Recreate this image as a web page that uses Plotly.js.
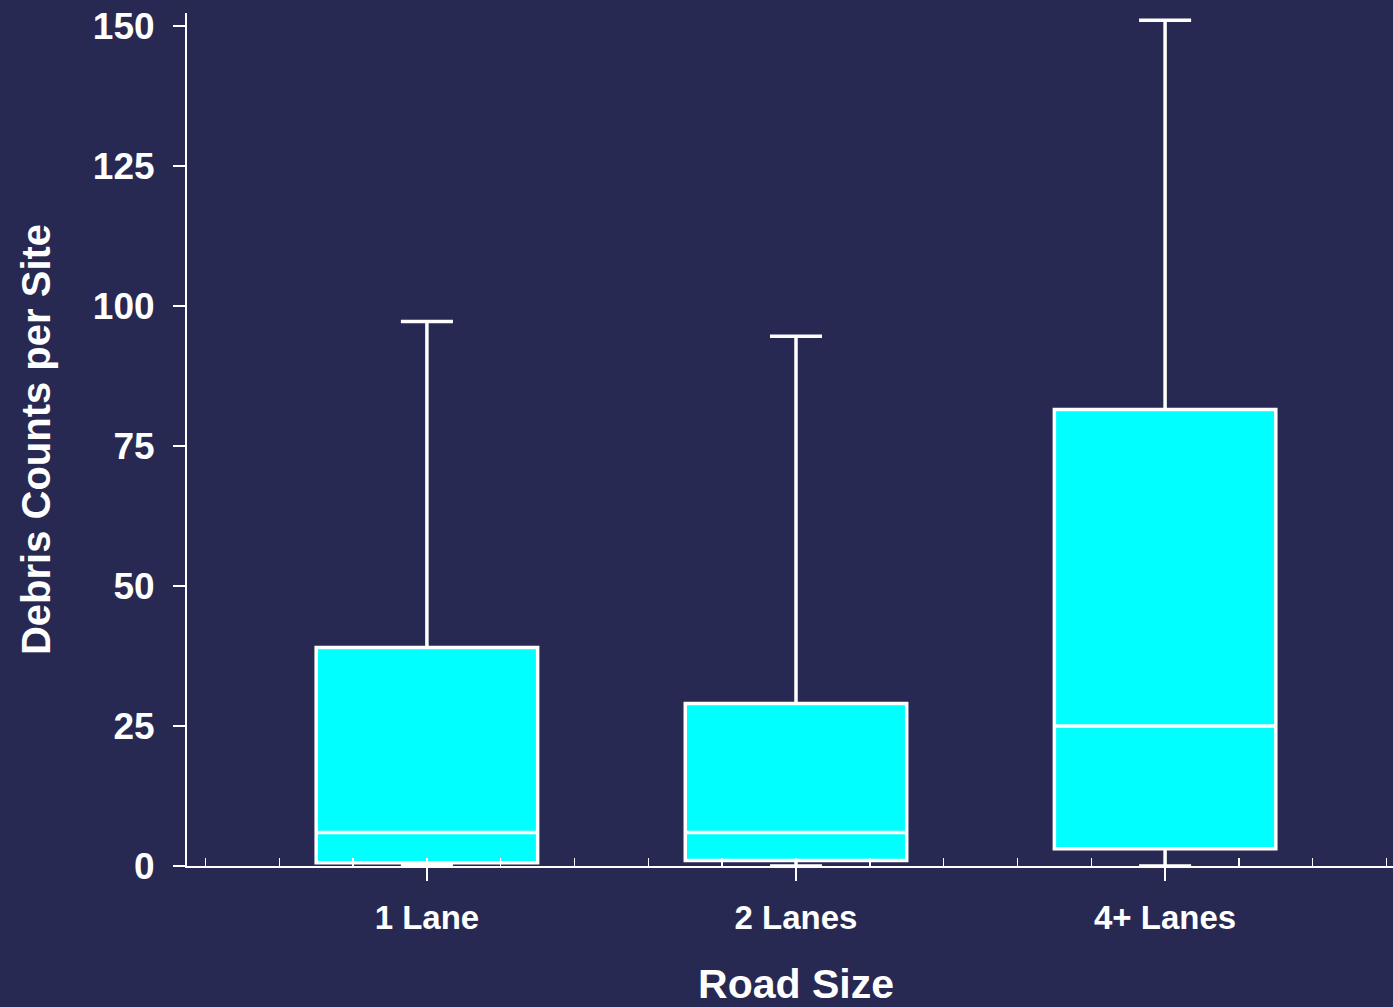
<!DOCTYPE html>
<html>
<head>
<meta charset="utf-8">
<script src="https://cdn.plot.ly/plotly-3.0.1.min.js"></script>
<style>
html,body{margin:0;padding:0;overflow:hidden;background:#272953;}
#chart{width:1405px;height:1007px;}
</style>
</head>
<body>
<div id="chart"></div>
<script>
const categories = ["1 Lane", "2 Lanes", "4+ Lanes"];
const categoryPos = [0, 1, 2];
const lowerFence = [0, 0, 0];
const q1 = [0.6, 1.0, 3.1];
const median = [6.0, 6.0, 25.0];
const q3 = [39.0, 29.0, 81.5];
const upperFence = [97.2, 94.6, 151.0];
const yTicks = [0, 25, 50, 75, 100, 125, 150];

const font = "Liberation Sans, Arial, sans-serif";

const trace = {
  type: "box",
  x: categoryPos,
  lowerfence: lowerFence,
  q1: q1,
  median: median,
  q3: q3,
  upperfence: upperFence,
  width: 0.6,
  whiskerwidth: 0.235,
  fillcolor: "#00FFFF",
  line: {color: "#FFFFFF", width: 3.5},
  boxpoints: false,
  hoverinfo: "none",
  showlegend: false
};

const layout = {
  width: 1405,
  height: 1007,
  paper_bgcolor: "#272953",
  plot_bgcolor: "#272953",
  margin: {l: 187, r: 0, t: 13, b: 141},
  font: {family: font, color: "#FFFFFF"},
  xaxis: {
    range: [-0.65, 2.65],
    tickvals: categoryPos,
    ticktext: categories,
    showline: true,
    linecolor: "#FFFFFF",
    linewidth: 2,
    ticks: "outside",
    ticklen: 13,
    tickwidth: 2,
    tickcolor: "#FFFFFF",
    ticklabelstandoff: 8,
    tickfont: {family: font, size: 33, color: "#FFFFFF", weight: "bold"},
    showgrid: false,
    zeroline: false,
    minor: {dtick: 0.2, tick0: 0, ticks: "inside", ticklen: 8, tickwidth: 1.5, tickcolor: "#FFFFFF", showgrid: false},
    title: {text: "<b>Road Size</b>", font: {family: font, size: 41, color: "#FFFFFF"}, standoff: 45}
  },
  yaxis: {
    range: [0, 152.3],
    tickvals: yTicks,
    ticktext: yTicks.map(String),
    showline: true,
    linecolor: "#FFFFFF",
    linewidth: 2,
    ticks: "outside",
    ticklen: 12,
    tickwidth: 2,
    tickcolor: "#FFFFFF",
    ticklabelstandoff: 11,
    tickfont: {family: font, size: 37, color: "#FFFFFF", weight: "bold"},
    showgrid: false,
    zeroline: false,
    title: {text: "<b>Debris Counts per Site</b>", font: {family: font, size: 40, color: "#FFFFFF"}, standoff: 30}
  }
};

Plotly.newPlot("chart", [trace], layout, {displayModeBar: false, staticPlot: true});
</script>
</body>
</html>
